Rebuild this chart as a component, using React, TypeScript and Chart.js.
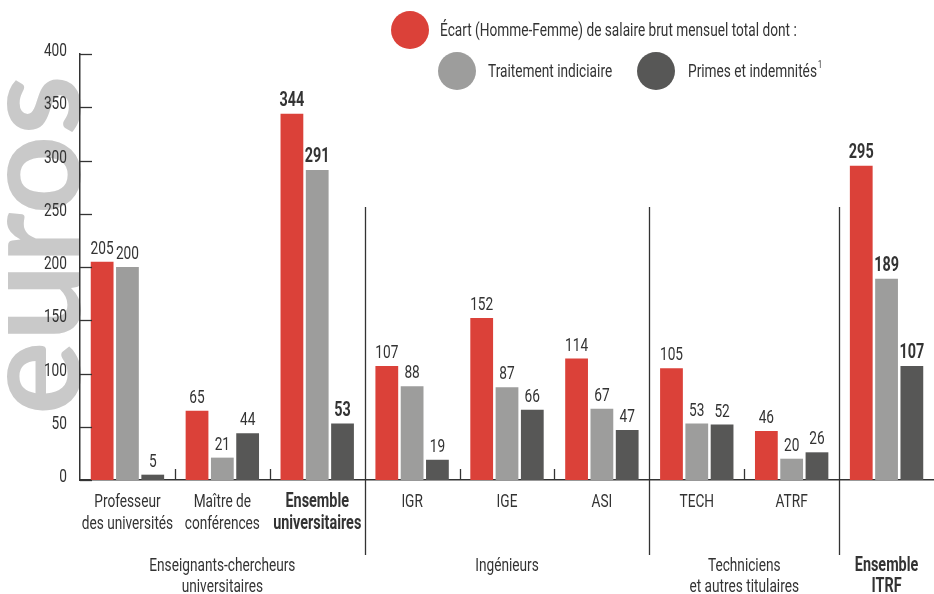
import React, { useEffect, useRef } from "react";
import { Chart, registerables } from "chart.js";

Chart.register(...registerables);

const categories: (string | string[])[] = [
  ["Professeur", "des universités"],
  ["Maître de", "conférences"],
  ["Ensemble", "universitaires"],
  "IGR",
  "IGE",
  "ASI",
  "TECH",
  "ATRF",
  "",
];
const ecartTotal = [205, 65, 344, 107, 152, 114, 105, 46, 295];
const traitementIndiciaire = [200, 21, 291, 88, 87, 67, 53, 20, 189];
const primesIndemnites = [5, 44, 53, 19, 66, 47, 52, 26, 107];
const boldCategories = [2, 8];
const groupLabels: string[][] = [
  ["Enseignants-chercheurs", "universitaires"],
  ["Ingénieurs"],
  ["Techniciens", "et autres titulaires"],
  ["Ensemble", "ITRF"],
];
const groupRanges = [
  [0, 2],
  [3, 5],
  [6, 7],
  [8, 8],
];
const boldGroups = [3];
const seriesLabels = [
  "Écart (Homme-Femme) de salaire brut mensuel total dont :",
  "Traitement indiciaire",
  "Primes et indemnités",
];
const yMin = 0;
const yMax = 400;
const yStep = 50;
const axisTitle = "euros";

const RED = "#db4139";
const LIGHT = "#9d9d9c";
const DARK = "#575756";
const TEXT = "#333333";
const FONT = "Roboto, 'DejaVu Sans', sans-serif";
const K = 0.72; // horizontal condensing factor

function drawText(
  ctx: CanvasRenderingContext2D,
  text: string,
  x: number,
  y: number,
  size: number,
  bold: boolean,
  align: CanvasTextAlign,
  baseline: CanvasTextBaseline = "middle"
) {
  ctx.save();
  ctx.translate(x, y);
  ctx.scale(K, 1);
  ctx.font = `${bold ? "bold " : ""}${size}px ${FONT}`;
  ctx.textAlign = align;
  ctx.textBaseline = baseline;
  ctx.fillText(text, 0, 0);
  const w = ctx.measureText(text).width * K;
  ctx.restore();
  return w;
}

export default function App() {
  const ref = useRef<HTMLCanvasElement | null>(null);

  useEffect(() => {
    if (!ref.current) return;

    const bgText = {
      id: "bgText",
      beforeDraw(chart: any) {
        const ctx = chart.ctx;
        const y = chart.scales.y;
        ctx.save();
        ctx.translate(80, y.getPixelForValue(0) - 65);
        ctx.rotate(-Math.PI / 2);
        ctx.font = "bold 140px Lato";
        const w = ctx.measureText(axisTitle).width;
        ctx.scale(340 / w, 1);
        ctx.fillStyle = "#c9c9c9";
        ctx.textAlign = "left";
        ctx.textBaseline = "alphabetic";
        ctx.fillText(axisTitle, 0, 0);
        ctx.restore();
      },
    };

    const decorations = {
      id: "decorations",
      afterDraw(chart: any) {
        const ctx = chart.ctx;
        const x = chart.scales.x;
        const y = chart.scales.y;
        const area = chart.chartArea;
        ctx.save();
        ctx.fillStyle = TEXT;
        // y ticks (inward) and labels
        ctx.strokeStyle = TEXT;
        ctx.lineWidth = 1.3;
        y.ticks.forEach((t: any) => {
          const py = Math.round(y.getPixelForValue(t.value)) + 0.5;
          ctx.beginPath();
          ctx.moveTo(area.left, py);
          ctx.lineTo(area.left + 12, py);
          ctx.stroke();
          drawText(ctx, String(t.value), 67, py - 3, 19, false, "right");
        });
        // x category labels
        categories.forEach((lab, i) => {
          const lines = Array.isArray(lab) ? lab : [lab];
          const bold = boldCategories.includes(i);
          const cx = x.getPixelForValue(i);
          lines.forEach((t, li) =>
            drawText(ctx, t, cx, 502 + li * 22, bold ? 20 : 19, bold, "center")
          );
        });
        const n = categories.length;
        const boundary = (i: number) =>
          (x.getPixelForValue(i - 1) + x.getPixelForValue(i)) / 2;
        const sepAfter = groupRanges.slice(0, -1).map((r) => r[1]);
        for (let i = 1; i < n; i++) {
          const bx = Math.round(boundary(i)) + 0.5;
          ctx.beginPath();
          ctx.lineWidth = 1.3;
          if (sepAfter.includes(i - 1)) {
            ctx.moveTo(bx, 207);
            ctx.lineTo(bx, 555);
          } else {
            ctx.moveTo(bx, area.bottom);
            ctx.lineTo(bx, area.bottom - 11);
          }
          ctx.stroke();
        }
        // group labels
        groupLabels.forEach((lines, gi) => {
          const [a, b] = groupRanges[gi];
          const left = a === 0 ? area.left : boundary(a);
          const right = b === n - 1 ? area.right : boundary(b + 1);
          const cx = (left + right) / 2;
          const bold = boldGroups.includes(gi);
          lines.forEach((t, li) =>
            drawText(ctx, t, cx, 566 + li * 21, bold ? 20 : 19, bold, "center")
          );
        });
        // legend
        const colors = [RED, LIGHT, DARK];
        const items = [
          { cx: 410, cy: 30, tx: 440 },
          { cx: 457, cy: 71, tx: 488 },
          { cx: 656, cy: 71, tx: 688 },
        ];
        items.forEach((it, i) => {
          ctx.fillStyle = colors[i];
          ctx.beginPath();
          ctx.arc(it.cx, it.cy, 19, 0, Math.PI * 2);
          ctx.fill();
          ctx.fillStyle = TEXT;
          const w = drawText(ctx, seriesLabels[i], it.tx, it.cy + 1, 19, false, "left");
          if (i === 2) {
            drawText(ctx, "1", it.tx + w + 1, it.cy - 6, 10, false, "left");
          }
        });
        ctx.restore();
      },
    };

    const valueLabels = {
      id: "valueLabels",
      afterDatasetsDraw(chart: any) {
        const ctx = chart.ctx;
        ctx.save();
        ctx.fillStyle = TEXT;
        chart.data.datasets.forEach((ds: any, di: number) => {
          const meta = chart.getDatasetMeta(di);
          meta.data.forEach((bar: any, i: number) => {
            const bold = boldCategories.includes(i);
            drawText(ctx, String(ds.data[i]), bar.x, bar.y - 8, bold ? 20 : 19, bold, "center", "alphabetic");
          });
        });
        ctx.restore();
      },
    };

    const chart = new Chart(ref.current, {
      type: "bar",
      data: {
        labels: categories,
        datasets: [
          { label: seriesLabels[0], data: ecartTotal, backgroundColor: RED },
          { label: seriesLabels[1], data: traitementIndiciaire, backgroundColor: LIGHT },
          { label: seriesLabels[2], data: primesIndemnites, backgroundColor: DARK },
        ],
      },
      options: {
        responsive: false,
        animation: false,
        events: [],
        layout: { padding: { top: 54, right: 0, bottom: 0, left: 0 } },
        datasets: { bar: { categoryPercentage: 0.8, barPercentage: 0.9 } },
        plugins: { legend: { display: false }, tooltip: { enabled: false } },
        scales: {
          x: {
            grid: { display: false, drawTicks: false },
            border: { display: true, color: TEXT, width: 1.5 },
            ticks: { display: false },
            afterFit: (s: any) => {
              s.height = 114;
            },
          },
          y: {
            min: yMin,
            max: yMax,
            grid: { display: false, drawTicks: false },
            border: { display: true, color: TEXT, width: 1.5 },
            ticks: { stepSize: yStep, display: false },
            afterFit: (s: any) => {
              s.width = 80;
            },
          },
        },
      },
      plugins: [bgText, valueLabels, decorations],
    });
    return () => chart.destroy();
  }, []);

  return (
    <div style={{ position: "absolute", left: 0, top: 0, width: 934, height: 594, background: "#fff" }}>
      <canvas ref={ref} width={934} height={594} />
    </div>
  );
}
